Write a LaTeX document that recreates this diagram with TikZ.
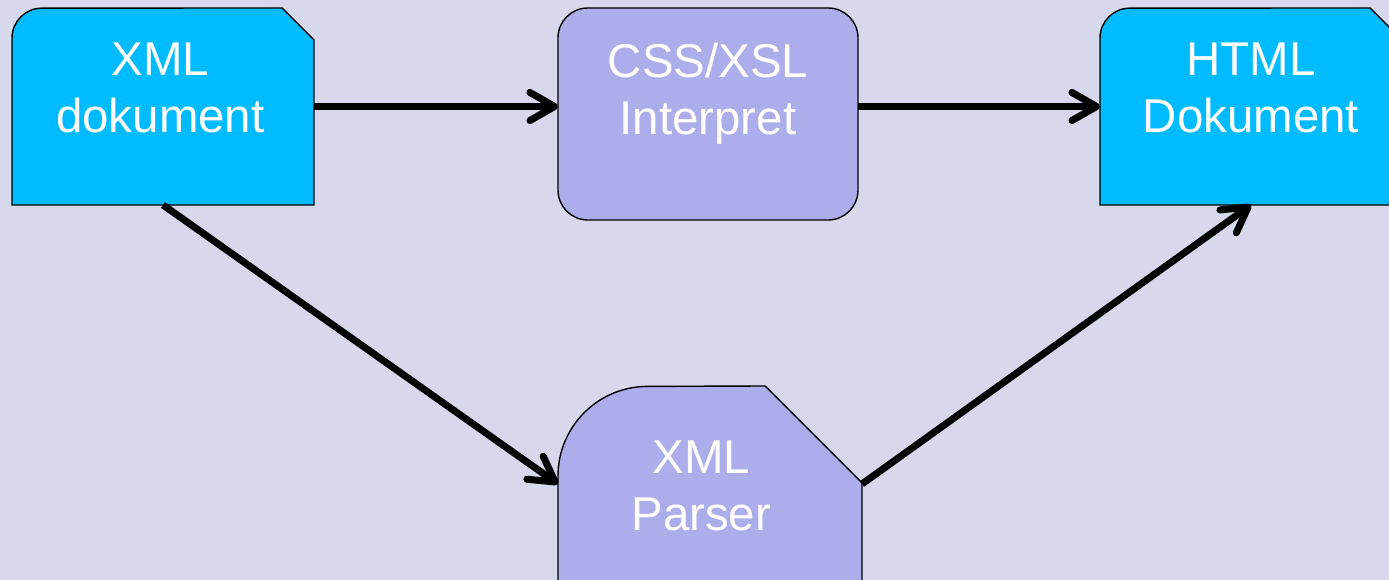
\documentclass[tikz,border=0pt]{standalone}
\usepackage{fontspec}
\setmainfont{Liberation Sans}
\usetikzlibrary{positioning,arrows.meta}

\definecolor{bgpale}{RGB}{216,216,236}
\definecolor{docblue}{RGB}{0,187,255}
\definecolor{procviolet}{RGB}{173,173,235}

\tikzset{
	docshape/.style={fill=docblue,draw=black,line width=0.8pt},
	procshape/.style={fill=procviolet,draw=black,line width=0.8pt},
	hold/.style={inner sep=0pt,outer sep=0pt},
	lbl/.style={text=white,font=\fontsize{27}{32.5}\selectfont,align=center,inner sep=0pt},
	flow/.style={line width=4pt,-{Straight Barb[length=14pt,width=16pt,line cap=round,line join=round]}}
}

\begin{document}
\begin{tikzpicture}[x=0.02cm,y=-0.02cm]
	\useasboundingbox (0,0) rectangle (1389,580);
	\clip (0,0) rectangle (1389,580);
	\fill [bgpale] (0,0) rectangle (1389,580);

	\node [hold,minimum width=6.04cm,minimum height=3.94cm] (xmldoc) at (163,106.5) {};
	\node [hold,minimum width=6cm,minimum height=4.24cm] (css) at (708,114) {};
	\node [hold,minimum width=6.04cm,minimum height=3.94cm] (html) at (1251,106.5) {};
	\node [hold,minimum width=6.08cm,minimum height=3.92cm] (parser) at (710,484) {};

	\draw [docshape] (12,205) -- (12,38) arc [start angle=180,end angle=90,radius=17pt] -- (282,8) -- (314,40) -- (314,205) -- cycle;
	\draw [procshape,rounded corners=17pt] (558,8) rectangle (858,220);
	\draw [docshape] (1100,205) -- (1100,38) arc [start angle=180,end angle=90,radius=17pt] -- (1370,8) -- (1402,40) -- (1402,205) -- cycle;
	\draw [procshape] (558,600) -- (558,476) arc [start angle=180,end angle=90,radius=51pt] -- (765,386) -- (862,483) -- (862,600);

	\node [lbl,below=19.5pt of xmldoc.north,xshift=-1.5pt] (xmldoc-t) {XML\\dokument};
	\node [lbl,below=19.5pt of css.north] (css-t) {CSS/XSL\\Interpret};
	\node [lbl,below=19.5pt of html.north] (html-t) {HTML\\Dokument};
	\node [lbl,below=31pt of parser.north,xshift=-5pt] (parser-t) {XML\\Parser};

	\draw [flow] (xmldoc.east) -- (xmldoc.east -| css.west);
	\draw [flow] (css.east |- html.west) -- (html.west);
	\draw [flow] (xmldoc.south) -- (parser.west);
	\draw [flow] (parser.east) -- (html.south);
\end{tikzpicture}
\end{document}
